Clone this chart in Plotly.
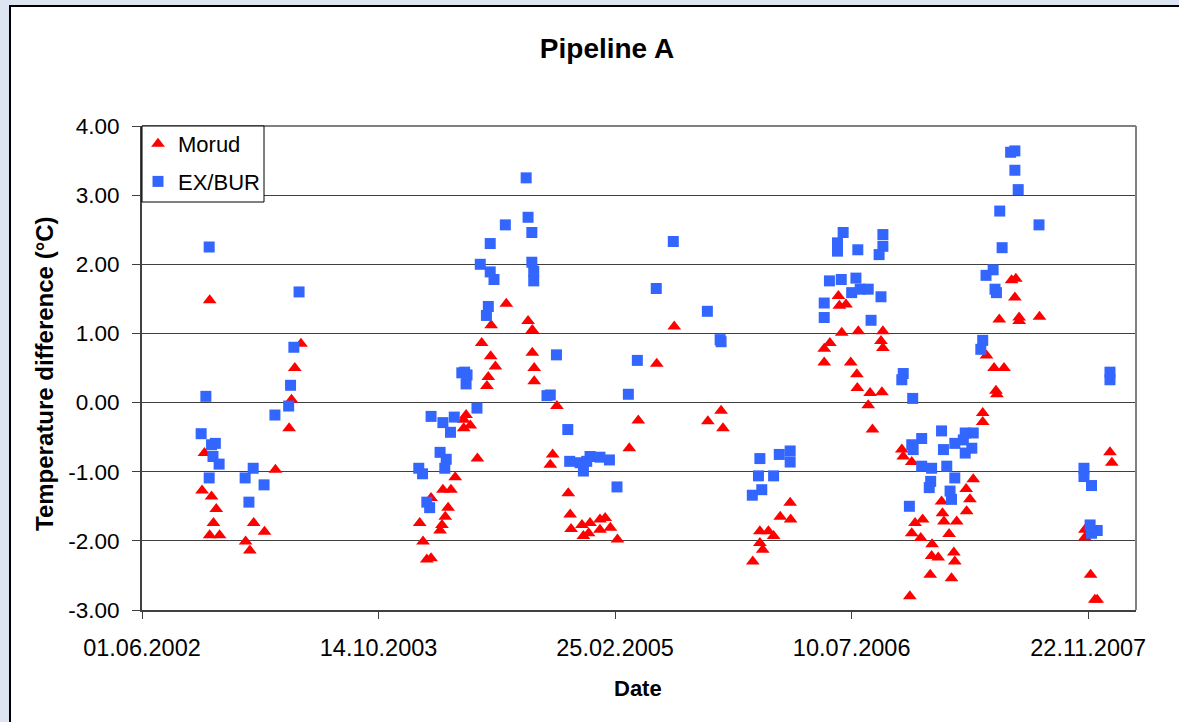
import pandas as pd
import plotly.graph_objects as go

# ---- data (dates as Excel serial day numbers) ----
morud_serial = [
    37551, 37744, 37731, 37724, 37719, 37690, 37540, 37535, 37555, 37565, 37559, 37551, 37572,
    37644, 37667, 37627, 37636,
    38178, 38224, 38233, 38146, 38126, 38145, 38155, 38140, 38137, 38233, 38237, 38237, 38285,
    38093, 38088, 38088, 38102, 38117, 38276, 38271, 38070, 38061, 38044, 38019, 38055, 38049,
    38042, 38038, 37995, 38002, 38010, 38019,
    38309, 38313, 38315, 38338, 38341, 38355, 38352, 38376, 38387, 38376, 38398, 38413, 38438,
    38533, 38496, 38457, 38632, 38604, 38636,
    38778, 38757, 38779, 38714, 38732, 38743, 38714, 38720, 38699,
    38880, 38882, 38896, 38887, 38922, 38974, 38970, 38974, 38862, 38850, 38850, 38906, 38919,
    38920, 38947, 38972, 38943, 38952, 39014, 39017, 39035,
    39031, 39035, 39042, 39058, 39054, 39078, 39077, 39091, 39074, 39098, 39100, 39103, 39114,
    39130, 39124, 39126, 39119, 39150, 39158, 39151, 39165,
    39185, 39185, 39193, 39209, 39213, 39215, 39220, 39230, 39246, 39255, 39253, 39262, 39262, 39305,
    39454, 39458, 39401, 39401, 39413, 39422, 39427,
]
morud_diff = [
    1.48, 0.85, 0.50, 0.04, -0.37, -0.97, -0.73, -1.27, -1.36, -1.54, -1.74, -1.92, -1.92,
    -1.74, -1.87, -2.01, -2.14,
    1.43, 1.18, 1.05, 1.12, 0.86, 0.67, 0.52, 0.37, 0.24, 0.72, 0.50, 0.31, -0.05,
    -0.18, -0.25, -0.37, -0.33, -0.81, -0.75, -0.90, -1.08, -1.26, -1.26, -1.38, -1.52, -1.65,
    -1.77, -1.85, -1.74, -2.01, -2.27, -2.25,
    -1.31, -1.62, -1.83, -1.77, -1.93, -1.74, -1.89, -1.69, -1.67, -1.84, -1.81, -1.98, -0.66,
    1.10, 0.56, -0.26, -0.12, -0.27, -0.37,
    -1.45, -1.65, -1.69, -1.86, -1.86, -1.93, -2.03, -2.13, -2.30,
    1.54, 1.40, 1.42, 1.01, 1.03, 1.03, 0.89, 0.79, 0.86, 0.78, 0.58, 0.58, 0.41,
    0.21, 0.14, 0.15, -0.04, -0.39, -0.68, -0.78, -0.86,
    -2.80, -1.89, -1.74, -1.69, -1.96, -2.05, -2.22, -2.24, -2.49, -1.43, -1.60, -1.72, -1.90,
    -1.72, -2.17, -2.30, -2.54, -1.25, -1.40, -1.57, -1.11,
    -0.15, -0.28, 0.68, 0.50, 0.17, 0.12, 1.20, 0.50, 1.77, 1.79, 1.52, 1.23, 1.18, 1.24,
    -0.72, -0.87, -1.84, -1.95, -2.49, -2.85, -2.85,
]

exbur_serial = [
    37550, 37740, 37729, 37722, 37718, 37689, 37543, 37533, 37563, 37555, 37558, 37571, 37550,
    37626, 37643, 37666, 37634,
    38220, 38224, 38232, 38176, 38144, 38123, 38144, 38152, 38232, 38236, 38236, 38140, 38136,
    38284, 38090, 38093, 38084, 38095, 38116, 38271, 38264, 38019, 38044, 38068, 38060, 38038,
    38051, 38048, 37993, 38001, 38010, 38016,
    38308, 38312, 38334, 38341, 38355, 38376, 38396, 38348, 38412, 38436,
    38531, 38495, 38603, 38632, 38630, 38455,
    38714, 38755, 38778, 38778, 38711, 38743, 38718, 38698,
    38890, 38878, 38878, 38921, 38974, 38974, 38966, 38861, 38886, 38917, 38908, 38926, 38943,
    38970, 38850, 38850, 38949, 39017, 39014, 39037,
    39056, 39035, 39038, 39098, 39102, 39126, 39148, 39165, 39148, 39162, 39144, 39056, 39077,
    39109, 39126, 39075, 39072, 39116, 39119, 39030,
    39221, 39226, 39192, 39207, 39211, 39214, 39185, 39181, 39244, 39253, 39253, 39260, 39304,
    39454, 39454, 39399, 39399, 39415, 39412, 39427, 39415,
]
exbur_diff = [
    2.25, 1.60, 0.80, 0.25, -0.05, -0.18, 0.09, -0.45, -0.59, -0.61, -0.78, -0.89, -1.09,
    -1.09, -0.95, -1.19, -1.44,
    3.25, 2.68, 2.46, 2.57, 2.30, 2.00, 1.89, 1.78, 2.03, 1.90, 1.76, 1.39, 1.26,
    0.69, 0.44, 0.27, 0.43, 0.40, -0.08, 0.11, 0.10, -0.20, -0.29, -0.21, -0.43, -0.72,
    -0.82, -0.95, -0.95, -1.03, -1.44, -1.52,
    -0.39, -0.85, -0.87, -0.99, -0.78, -0.79, -0.83, -0.85, -1.22, 0.12,
    2.33, 1.65, 1.32, 0.88, 0.91, 0.61,
    -0.81, -0.75, -0.70, -0.86, -1.06, -1.06, -1.26, -1.34,
    2.46, 2.31, 2.19, 2.21, 2.43, 2.26, 2.14, 1.76, 1.78, 1.80, 1.59, 1.64, 1.64,
    1.53, 1.44, 1.23, 1.19, 0.42, 0.33, 0.06,
    -0.52, -0.61, -0.68, -0.41, -0.68, -0.59, -0.44, -0.44, -0.73, -0.66, -0.54, -0.92, -0.95,
    -0.92, -1.09, -1.14, -1.23, -1.28, -1.40, -1.50,
    2.77, 2.24, 1.84, 1.92, 1.64, 1.59, 0.90, 0.77, 3.62, 3.64, 3.36, 3.08, 2.57,
    0.44, 0.33, -0.95, -1.07, -1.20, -1.77, -1.85, -1.89,
]

series_names = ["Morud", "EX/BUR"]
x_axis_serial_range = [37408, 39509]          # 01.06.2002 ... early 03.2008
x_tick_start = "2002-06-01"
x_tick_step_days = 500
y_tick_values = [-3, -2, -1, 0, 1, 2, 3, 4]
y_tick_labels = ["-3.00", "-2.00", "-1.00", "0.00", "1.00", "2.00", "3.00", "4.00"]


def serial_to_date(vals):
    return pd.to_datetime(pd.Series(vals), unit="D", origin="1899-12-30")


FONT = "Liberation Sans, Arial, sans-serif"

fig = go.Figure()
fig.add_trace(go.Scatter(
    x=serial_to_date(morud_serial), y=morud_diff, mode="markers", name=series_names[0],
    legendgroup="a",
    marker=dict(symbol="triangle-up", size=12, color="#FF0000", line=dict(width=0)),
))
fig.add_trace(go.Scatter(
    x=serial_to_date(exbur_serial), y=exbur_diff, mode="markers", name=series_names[1],
    legendgroup="b",
    marker=dict(symbol="square", size=11, color="#3366FF", line=dict(width=0)),
))

xr = serial_to_date(x_axis_serial_range)

L, R, T, B = 142, 43, 126, 112
W, H = 1179, 722
pw, ph = W - L - R, H - T - B


def px_x(x):
    return (x - L) / pw


def px_y(y):
    return (T + ph - y) / ph


fig.update_layout(
    width=W, height=H,
    margin=dict(l=L, r=R, t=T, b=B),
    paper_bgcolor="#DDE4F2",
    plot_bgcolor="#FFFFFF",
    font=dict(family=FONT, size=22, color="#000000"),
    showlegend=True,
    legend=dict(
        x=px_x(138), y=px_y(123), xanchor="left", yanchor="top",
        bgcolor="rgba(0,0,0,0)", borderwidth=0,
        font=dict(family=FONT, size=22, color="#000000"),
        tracegroupgap=6, traceorder="grouped",
    ),
    title=dict(
        text="<b>Pipeline A</b>", x=607 / W, xref="container", xanchor="center",
        y=1 - 48 / H, yref="container", yanchor="middle",
        font=dict(family=FONT, size=28, color="#000000"),
    ),
    xaxis=dict(
        type="date", range=[xr[0], xr[1]],
        tick0=x_tick_start, dtick=x_tick_step_days * 86400000, tickformat="%d.%m.%Y",
        showgrid=False, zeroline=False,
        showline=True, linecolor="#404040", linewidth=2,
        ticks="outside", ticklen=7, tickcolor="#404040", tickwidth=1,
        ticklabelstandoff=9,
        tickfont=dict(family=FONT, size=23.5, color="#000000"),
    ),
    yaxis=dict(
        range=[-3, 4], tickvals=y_tick_values, ticktext=y_tick_labels,
        showgrid=True, gridcolor="#404040", gridwidth=1, zeroline=False,
        showline=True, linecolor="#404040", linewidth=2,
        ticks="outside", ticklen=8, tickcolor="#404040", tickwidth=1,
        ticklabelstandoff=8,
        tickfont=dict(family=FONT, size=22.5, color="#000000"),
    ),
    shapes=[
        # outer chart frame
        dict(type="rect", xref="paper", yref="paper",
             x0=px_x(10), x1=px_x(1190), y0=px_y(730), y1=px_y(6),
             fillcolor="#FFFFFF", line=dict(color="#000000", width=2), layer="below"),
        # top and right plot-area borders
        dict(type="line", xref="paper", yref="paper", x0=0, x1=1, y0=1, y1=1,
             line=dict(color="#808080", width=2), layer="above"),
        dict(type="line", xref="paper", yref="paper", x0=1, x1=1, y0=0, y1=1,
             line=dict(color="#808080", width=2), layer="above"),
        # legend box
        dict(type="rect", xref="paper", yref="paper",
             x0=px_x(142), x1=px_x(264), y0=px_y(202), y1=px_y(126),
             fillcolor="#FFFFFF", line=dict(color="#000000", width=1), layer="above"),
    ],
    annotations=[
        dict(text="<b>Temperature difference (°C)</b>", textangle=-90,
             xref="paper", yref="paper", x=px_x(44), y=px_y(374),
             xanchor="center", yanchor="middle", showarrow=False,
             font=dict(family=FONT, size=24, color="#000000")),
        dict(text="<b>Date</b>", xref="paper", yref="paper",
             x=px_x(638), y=px_y(688),
             xanchor="center", yanchor="middle", showarrow=False,
             font=dict(family=FONT, size=22, color="#000000")),
    ],
)

fig.write_html("out.html")
